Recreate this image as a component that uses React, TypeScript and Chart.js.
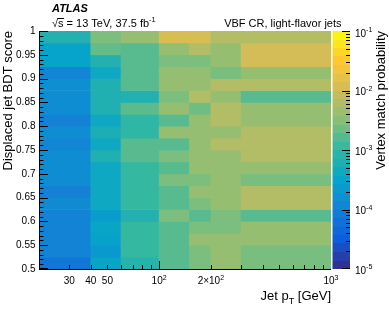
import React, { useEffect, useRef } from "react";
import { Chart, registerables } from "chart.js";

Chart.register(...registerables);

const FONT = "'Liberation Sans', Arial, Helvetica, sans-serif";

// Jet pT bin edges [GeV]
const ptEdges = [20, 40, 60, 100, 150, 200, 300, 1000];
// Displaced jet BDT score bin edges
const bdtEdges = [0.5, 0.525, 0.55, 0.575, 0.6, 0.625, 0.65, 0.675, 0.7, 0.725, 0.75, 0.775, 0.8, 0.825, 0.85, 0.875, 0.9, 0.925, 0.95, 0.975, 1.0];

// Vertex match probability per pT bin, from BDT score 0.5 (bottom) to 1.0 (top)
const probPt20to40 = [7e-5, 1.1e-4, 1.1e-4, 1.1e-4, 1.1e-4, 1.4e-4, 1.0e-4, 1.5e-4, 1.5e-4, 1.5e-4, 1.2e-4, 1.5e-4, 1.0e-4, 1.5e-4, 1.5e-4, 1.6e-4, 1.2e-4, 3.2e-4, 3.2e-4, 7e-4];
const probPt40to60 = [3.5e-4, 2.2e-4, 3e-4, 3.5e-4, 2.5e-4, 4e-4, 4e-4, 4e-4, 4e-4, 6.6e-4, 4e-4, 6e-4, 4e-4, 6.6e-4, 6.6e-4, 6.6e-4, 4e-4, 7e-4, 2.0e-3, 2.7e-3];
const probPt60to100 = [8e-4, 1.1e-3, 1.1e-3, 1.1e-3, 7e-4, 1.1e-3, 1.1e-3, 1.1e-3, 1.1e-3, 1.7e-3, 1.7e-3, 1e-3, 1e-3, 1.8e-3, 7e-4, 1.7e-3, 1.7e-3, 1.7e-3, 1.7e-3, 4e-3];
const probPt100to150 = [1.7e-3, 1.7e-3, 1.7e-3, 1.7e-3, 2.7e-3, 1.7e-3, 1.7e-3, 2.7e-3, 1.7e-3, 2.7e-3, 1.7e-3, 4e-3, 1.7e-3, 4e-3, 2.7e-3, 4e-3, 4e-3, 2.7e-3, 4e-3, 1.2e-2];
const probPt150to200 = [2.7e-3, 2.7e-3, 4e-3, 2.7e-3, 1.7e-3, 2.7e-3, 4e-3, 2.7e-3, 4e-3, 4e-3, 4e-3, 4e-3, 4e-3, 2.3e-3, 6.3e-3, 4e-3, 4e-3, 2.7e-3, 6.3e-3, 1.2e-2];
const probPt200to300 = [4e-3, 4e-3, 4e-3, 2.7e-3, 2.7e-3, 4e-3, 4e-3, 4e-3, 4e-3, 4e-3, 6.3e-3, 4e-3, 6.3e-3, 6.3e-3, 4e-3, 6.3e-3, 2.6e-3, 4e-3, 4e-3, 6.3e-3];
const probPt300to1000 = [2.6e-3, 2.6e-3, 4e-3, 4e-3, 1.7e-3, 6.3e-3, 6.3e-3, 2.6e-3, 4e-3, 6.3e-3, 6.3e-3, 6.3e-3, 4e-3, 4e-3, 1.7e-3, 6.3e-3, 4e-3, 1.1e-2, 1.1e-2, 6.3e-3];
const probColumns = [probPt20to40, probPt40to60, probPt60to100, probPt100to150, probPt150to200, probPt200to300, probPt300to1000];

// Axis tick labels
const yTickValues = [0.5, 0.55, 0.6, 0.65, 0.7, 0.75, 0.8, 0.85, 0.9, 0.95, 1];
const xLabelValues = [30, 40, 50, 100, 200, 1000];
const xLabelBases = ["30", "40", "50", "10", "2\u00d710", "10"];
const xLabelExps = ["", "", "", "2", "2", "3"];
const zMin = 1e-5;
const zMax = 1e-1;
const zLabelValues = [1e-5, 1e-4, 1e-3, 1e-2, 1e-1];
const zLabelExps = ["-5", "-4", "-3", "-2", "-1"];
const nContours = 28;

const TICK_COLOR = "#000";

// ROOT kBird palette
const birdStops = [0, 0.125, 0.25, 0.375, 0.5, 0.625, 0.75, 0.875, 1];
const birdR = [0.2082, 0.0592, 0.078, 0.0232, 0.1802, 0.5301, 0.8186, 0.9956, 0.9764];
const birdG = [0.1664, 0.3599, 0.5041, 0.6419, 0.7178, 0.7492, 0.7328, 0.7862, 0.9832];
const birdB = [0.5293, 0.8684, 0.8385, 0.7914, 0.6425, 0.4662, 0.3499, 0.1968, 0.0539];

function bird(t: number): string {
  const tt = Math.max(0, Math.min(1, t));
  let i = 0;
  while (i < birdStops.length - 2 && tt > birdStops[i + 1]) i++;
  const f = (tt - birdStops[i]) / (birdStops[i + 1] - birdStops[i]);
  const r = Math.round(255 * (birdR[i] + f * (birdR[i + 1] - birdR[i])));
  const g = Math.round(255 * (birdG[i] + f * (birdG[i + 1] - birdG[i])));
  const b = Math.round(255 * (birdB[i] + f * (birdB[i + 1] - birdB[i])));
  return `rgb(${r},${g},${b})`;
}

function zFrac(v: number): number {
  return (Math.log10(v) - Math.log10(zMin)) / (Math.log10(zMax) - Math.log10(zMin));
}

function drawSup(ctx: CanvasRenderingContext2D, base: string, exp: string, x: number, y: number, align: string, size: number, supSize: number, raise: number) {
  ctx.font = `${size}px ${FONT}`;
  const wb = ctx.measureText(base).width;
  ctx.font = `${supSize}px ${FONT}`;
  const we = exp ? ctx.measureText(exp).width : 0;
  const total = wb + we;
  const x0 = align === "center" ? x - total / 2 : align === "right" ? x - total : x;
  ctx.textAlign = "left";
  ctx.textBaseline = "alphabetic";
  ctx.font = `${size}px ${FONT}`;
  ctx.fillText(base, x0, y);
  if (exp) {
    ctx.font = `${supSize}px ${FONT}`;
    ctx.fillText(exp, x0 + wb, y - raise);
  }
}

const decorPlugin = {
  id: "atlasDecor",
  afterDraw(chart: any) {
    const ctx: CanvasRenderingContext2D = chart.ctx;
    const { left, right, top, bottom } = chart.chartArea;
    const xs = chart.scales.x;
    const ys = chart.scales.y;
    const zs = chart.scales.cb;
    ctx.save();

    // colour bar
    const cbL = right + 1.5;
    const cbR = right + 19;
    const lmin = Math.log10(zMin);
    const lmax = Math.log10(zMax);
    for (let i = 0; i < nContours; i++) {
      const v0 = Math.pow(10, lmin + ((lmax - lmin) * i) / nContours);
      const v1 = Math.pow(10, lmin + ((lmax - lmin) * (i + 1)) / nContours);
      const y0 = Math.round(zs.getPixelForValue(v0));
      const y1 = Math.round(zs.getPixelForValue(v1));
      ctx.fillStyle = bird((i + 0.5) / nContours);
      ctx.fillRect(cbL, y1, cbR - cbL, y0 - y1);
    }

    // axes and tick marks
    ctx.fillStyle = TICK_COLOR;
    const L = Math.round(left);
    const B = Math.round(bottom);
    const T = Math.round(top);
    const R = Math.round(right);
    ctx.fillRect(L, T, 1, B - T + 1);
    ctx.fillRect(L, B, R - L, 1);
    for (let k = 50; k <= 100; k++) {
      const py = Math.round(ys.getPixelForValue(k / 100));
      const len = k % 5 === 0 ? 9 : 4.5;
      ctx.fillRect(L, Math.min(py, B - 1), len, 1);
    }
    for (const d of [10, 100]) {
      for (let m = 1; m <= 9; m++) {
        const v = m * d;
        if (v <= 20 || v > 1000) continue;
        const px = Math.min(Math.round(xs.getPixelForValue(v)), R - 1);
        const len = m === 1 ? 8 : 4;
        ctx.fillRect(px, B - len, 1, len);
      }
    }
    for (let e = -5; e <= -1; e++) {
      for (let m = 1; m <= 9; m++) {
        const v = m * Math.pow(10, e);
        if (v > zMax * 1.0001) continue;
        const py = Math.round(zs.getPixelForValue(v));
        const len = m === 1 ? 8 : 4;
        ctx.fillRect(cbR - len, Math.min(py, B - 1), len, 1);
      }
    }

    // x tick labels
    ctx.fillStyle = "#000";
    xLabelValues.forEach((v, i) => {
      const px = xs.getPixelForValue(v);
      drawSup(ctx, xLabelBases[i], xLabelExps[i], px, 284, "center", 10, 7, 4.5);
    });

    // colour-bar labels
    zLabelValues.forEach((v, i) => {
      const py = Math.max(zs.getPixelForValue(v) + 1, top + 2);
      drawSup(ctx, "10", zLabelExps[i], cbR + 5, py + 3.6, "left", 10, 7, 4.5);
    });

    // x title
    ctx.font = `13px ${FONT}`;
    const w1 = ctx.measureText("Jet p").width;
    const w3 = ctx.measureText(" [GeV]").width;
    ctx.font = `9px ${FONT}`;
    const w2 = ctx.measureText("T").width;
    const xt = right - (w1 + w2 + w3);
    ctx.textAlign = "left";
    ctx.textBaseline = "alphabetic";
    ctx.font = `13px ${FONT}`;
    ctx.fillText("Jet p", xt, 300);
    ctx.font = `9px ${FONT}`;
    ctx.fillText("T", xt + w1, 304);
    ctx.font = `13px ${FONT}`;
    ctx.fillText(" [GeV]", xt + w1 + w2, 300);

    // y title
    ctx.save();
    ctx.translate(12, top);
    ctx.rotate(-Math.PI / 2);
    ctx.textAlign = "right";
    ctx.font = `13px ${FONT}`;
    ctx.fillText("Displaced jet BDT score", 0, 0);
    ctx.restore();

    // colour-bar title
    ctx.save();
    ctx.translate(385, top);
    ctx.rotate(-Math.PI / 2);
    ctx.textAlign = "right";
    ctx.font = `13px ${FONT}`;
    ctx.fillText("Vertex match probability", 0, 0);
    ctx.restore();

    // ATLAS label
    ctx.textAlign = "left";
    ctx.textBaseline = "alphabetic";
    ctx.font = `italic bold 11px ${FONT}`;
    ctx.fillText("ATLAS", 52, 12);

    // sqrt(s) line
    ctx.font = `11px ${FONT}`;
    const wr = ctx.measureText("\u221a").width;
    ctx.fillText("\u221a", 52, 26.5);
    const ws = ctx.measureText("s").width;
    ctx.fillText("s", 52 + wr, 26.5);
    ctx.fillRect(52 + wr - 0.5, 18, ws + 1, 1);
    drawSup(ctx, " = 13 TeV, 37.5 fb", "-1", 52 + wr + ws, 26.5, "left", 11, 7.5, 4.5);

    // region label
    ctx.font = `11px ${FONT}`;
    ctx.textAlign = "right";
    ctx.fillText("VBF CR, light-flavor jets", 341.5, 27);

    ctx.restore();
  },
};

export default function App() {
  const ref = useRef<HTMLCanvasElement | null>(null);
  useEffect(() => {
    const canvas = ref.current;
    if (!canvas) return;
    document.body.style.margin = "0";
    Chart.defaults.font.family = FONT;
    const cells: any[] = [];
    const colors: string[] = [];
    probColumns.forEach((col, c) => {
      col.forEach((v, r) => {
        cells.push({ x: [ptEdges[c], ptEdges[c + 1]], y: (bdtEdges[r] + bdtEdges[r + 1]) / 2 });
        colors.push(bird(zFrac(v)));
      });
    });
    const chart = new Chart(canvas, {
      type: "bar",
      data: {
        datasets: [
          {
            data: cells,
            backgroundColor: colors,
            borderWidth: 0,
            barPercentage: 1,
            categoryPercentage: 1,
          } as any,
        ],
      },
      options: {
        indexAxis: "y",
        animation: false,
        responsive: true,
        maintainAspectRatio: false,
        layout: { padding: { top: 31, left: 0, right: 0, bottom: 0 } },
        plugins: { legend: { display: false }, tooltip: { enabled: false } },
        scales: {
          x: {
            type: "logarithmic",
            min: 20,
            max: 1000,
            offset: false,
            grid: { display: false, drawTicks: false },
            border: { display: false },
            ticks: { display: false },
            afterFit: (s: any) => {
              s.height = 48;
            },
          },
          y: {
            type: "linear",
            min: 0.5,
            max: 1,
            offset: false,
            grid: { display: false, drawTicks: false, offset: false },
            border: { display: false },
            ticks: {
              padding: 3.5,
              color: "#000",
              font: { size: 10, family: FONT },
              callback: (v: any) => String(Number(Number(v).toFixed(2))),
            },
            afterBuildTicks: (s: any) => {
              s.ticks = yTickValues.map((v) => ({ value: v }));
            },
            afterFit: (s: any) => {
              s.width = 39;
            },
          },
          cb: {
            type: "logarithmic",
            axis: "y",
            position: "right",
            min: zMin,
            max: zMax,
            display: true,
            grid: { display: false, drawTicks: false },
            border: { display: false },
            ticks: { display: false },
            afterFit: (s: any) => {
              s.width = 58;
            },
          },
        } as any,
      },
      plugins: [decorPlugin],
    });
    return () => chart.destroy();
  }, []);
  return (
    <div style={{ position: "fixed", left: 0, top: 0, width: 389, height: 317, background: "#fff" }}>
      <canvas ref={ref} />
    </div>
  );
}
